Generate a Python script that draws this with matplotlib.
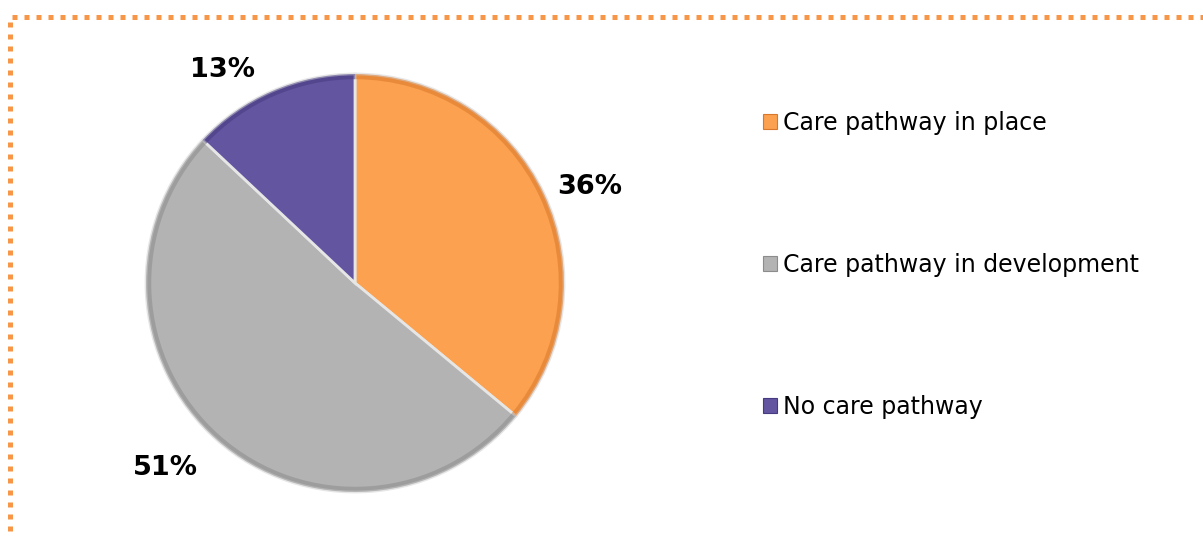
import matplotlib.pyplot as plt
from matplotlib.patches import Rectangle
from matplotlib.lines import Line2D

categories = ["Care pathway in place", "Care pathway in development", "No care pathway"]
shares = [36, 51, 13]
colors = ["#FBA14F", "#B3B3B3", "#6355A0"]
rims = ["#D9782A", "#8C8C8C", "#463A80"]

W, H = 1203, 537
fig = plt.figure(figsize=(W / 100, H / 100), dpi=100)
fig.patch.set_facecolor("white")

# dotted orange frame (top and left edges visible)
border_kw = dict(color="#F79646", lw=3.6, linestyle=(0, (1.0, 1.4)), solid_capstyle="butt",
                 transform=fig.transFigure)
fig.add_artist(Line2D([12 / W, 1.0], [1 - 17 / H, 1 - 17 / H], **border_kw))
fig.add_artist(Line2D([10 / W, 10 / W], [1 - 22 / H, 0.0], **border_kw))

cx, cy, r = 355, 283, 209
ax = fig.add_axes([(cx - r) / W, (H - cy - r) / H, 2 * r / W, 2 * r / H])

wedges, _, autotexts = ax.pie(
    shares, colors=colors, startangle=90, counterclock=False, radius=1.0,
    autopct="%.0f%%", pctdistance=1.23,
    wedgeprops=dict(edgecolor="#E6E6E6", linewidth=2.0),
    textprops=dict(fontsize=19.5, fontweight="bold", color="black", family="DejaVu Sans"),
)
# percentage labels sit outside the pie, nudged clear of the rim
label_xy = [(1.124, 0.459), (-0.909, -0.885), (-0.632, 1.019)]
for t, xy in zip(autotexts, label_xy):
    t.set_position(xy)

# darker rim on each slice for a bevelled look
rim_wedges, _ = ax.pie(shares, colors=rims, startangle=90, counterclock=False, radius=1.0,
                       wedgeprops=dict(width=0.025, edgecolor="none", linewidth=0, alpha=0.55))
ax.set_xlim(-1, 1)
ax.set_ylim(-1, 1)
ax.set_aspect("equal")
ax.axis("off")

handles = [Rectangle((0, 0), 1, 1, facecolor=c, edgecolor=rc, lw=0.8) for c, rc in zip(colors, rims)]
leg = fig.legend(handles, categories, loc="upper left", bbox_to_anchor=(751 / W, 1 - 99 / H),
                 frameon=False, fontsize=17, handlelength=0.62, handleheight=0.62,
                 handletextpad=0.25, labelspacing=5.0, borderpad=0)
plt.savefig("out.png", dpi=100, facecolor="white")
